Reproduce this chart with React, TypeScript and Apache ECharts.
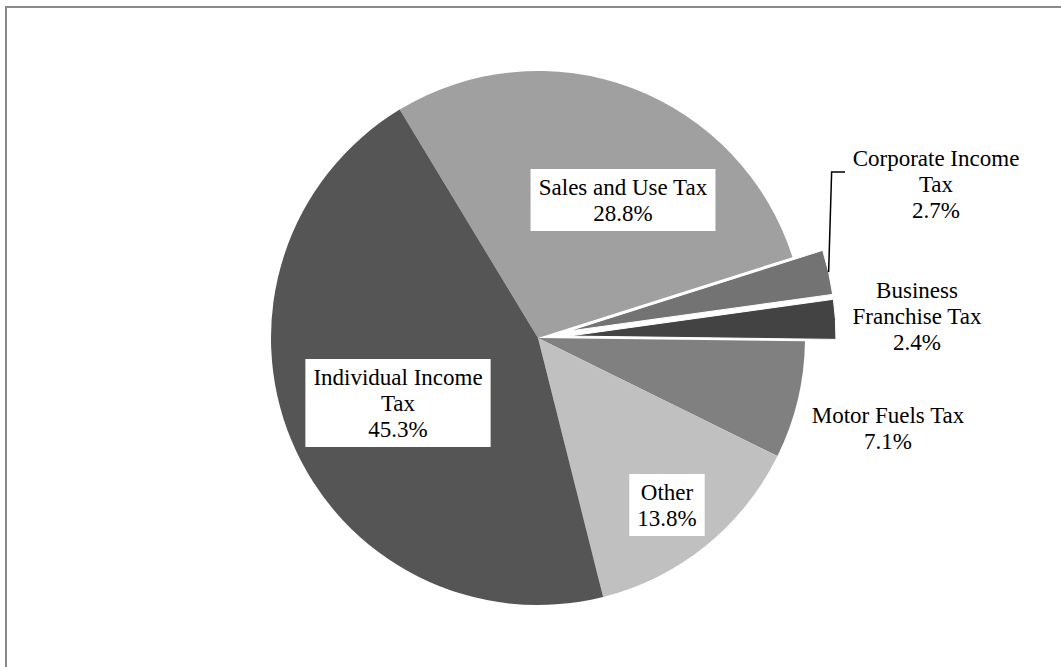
import React, { useEffect, useRef } from 'react';
import * as echarts from 'echarts';

// ---- data ----
const categories = [
  'Sales and Use Tax',
  'Corporate Income Tax',
  'Business Franchise Tax',
  'Motor Fuels Tax',
  'Other',
  'Individual Income Tax',
];
const labelNames = [
  'Sales and Use Tax',
  'Corporate Income\nTax',
  'Business\nFranchise Tax',
  'Motor Fuels Tax',
  'Other',
  'Individual Income\nTax',
];
const shares = [28.8, 2.7, 2.4, 7.1, 13.8, 45.3];
const exploded = [false, true, true, false, false, false];

// ---- styles / layout ----
const colors = ['#a0a0a0', '#737373', '#434343', '#808080', '#c0c0c0', '#555555'];
const boxed = [true, false, false, false, true, true];
const CX = 538;
const CY = 338;
const R = 267;
const OFFSET = 31;
const START = 121.2;
const labelPos: number[][] = [
  [623, 200],
  [936, 184],
  [917, 316],
  [888, 428],
  [667, 505],
  [398, 403],
];
const FONT = "'Liberation Serif', 'Times New Roman', serif";

const baseLabel = {
  position: 'inside',
  color: '#000',
  fontFamily: FONT,
  fontSize: 23,
  lineHeight: 26,
  formatter: (p: any) => `${labelNames[p.dataIndex]}\n${Number(p.value).toFixed(1)}%`,
};
const layoutFn = (p: any) => ({
  x: labelPos[p.dataIndex][0],
  y: labelPos[p.dataIndex][1],
  align: 'center',
  verticalAlign: 'middle',
});

export default function App() {
  const ref = useRef<HTMLDivElement>(null);

  useEffect(() => {
    if (!ref.current) return;
    const chart = echarts.init(ref.current, undefined, { renderer: 'svg' });

    const total = shares.reduce((a, b) => a + b, 0);
    let acc = 0;
    const mids = shares.map((v) => {
      const m = acc + v / 2;
      acc += v;
      return (m / total) * 360;
    });
    // leader line for Corporate Income Tax (index 1)
    const a = ((START - mids[1]) * Math.PI) / 180;
    const p1 = [CX + (R + OFFSET) * Math.cos(a), CY - (R + OFFSET) * Math.sin(a)];
    const lineY = labelPos[1][1] - 12;
    const lineEndX = labelPos[1][0] - 91;

    chart.setOption({
      animation: false,
      backgroundColor: '#fff',
      graphic: [
        {
          type: 'rect',
          silent: true,
          z: -10,
          shape: { x: 6, y: 7, width: 1200, height: 800 },
          style: { fill: 'none', stroke: '#898989', lineWidth: 2 },
        },
        {
          type: 'polyline',
          silent: true,
          z: 100,
          shape: { points: [p1, [p1[0] + 3, lineY], [lineEndX, lineY]] },
          style: { fill: 'none', stroke: '#000', lineWidth: 1.5 },
        },
      ],
      series: [
        {
          type: 'pie',
          center: [CX, CY],
          radius: R,
          startAngle: START,
          clockwise: true,
          selectedMode: 'multiple',
          selectedOffset: OFFSET,
          avoidLabelOverlap: false,
          emphasis: { disabled: true },
          label: { show: true, ...baseLabel },
          labelLine: { show: false },
          labelLayout: layoutFn,
          data: categories.map((c, i) => ({
            name: c,
            value: shares[i],
            selected: exploded[i],
            itemStyle: {
              color: colors[i],
              borderColor: '#fff',
              borderWidth: exploded[i] ? 1 : 0,
            },
            label: {
              show: !exploded[i],
              backgroundColor: boxed[i] ? '#fff' : 'transparent',
              padding: boxed[i] ? [5, 8] : 0,
            },
          })),
        },
        {
          // label carrier for the exploded slices (invisible sectors)
          type: 'pie',
          center: [CX, CY],
          radius: R,
          startAngle: START,
          clockwise: true,
          silent: true,
          z: 3,
          avoidLabelOverlap: false,
          emphasis: { disabled: true },
          itemStyle: { color: 'rgba(0,0,0,0)', borderWidth: 0 },
          label: { show: true, ...baseLabel },
          labelLine: { show: false },
          labelLayout: layoutFn,
          data: categories.map((c, i) => ({
            name: c,
            value: shares[i],
            label: { show: exploded[i] },
          })),
        },
      ],
    });

    return () => chart.dispose();
  }, []);

  return (
    <div
      ref={ref}
      style={{ position: 'absolute', left: 0, top: 0, width: 1061, height: 667 }}
    />
  );
}
